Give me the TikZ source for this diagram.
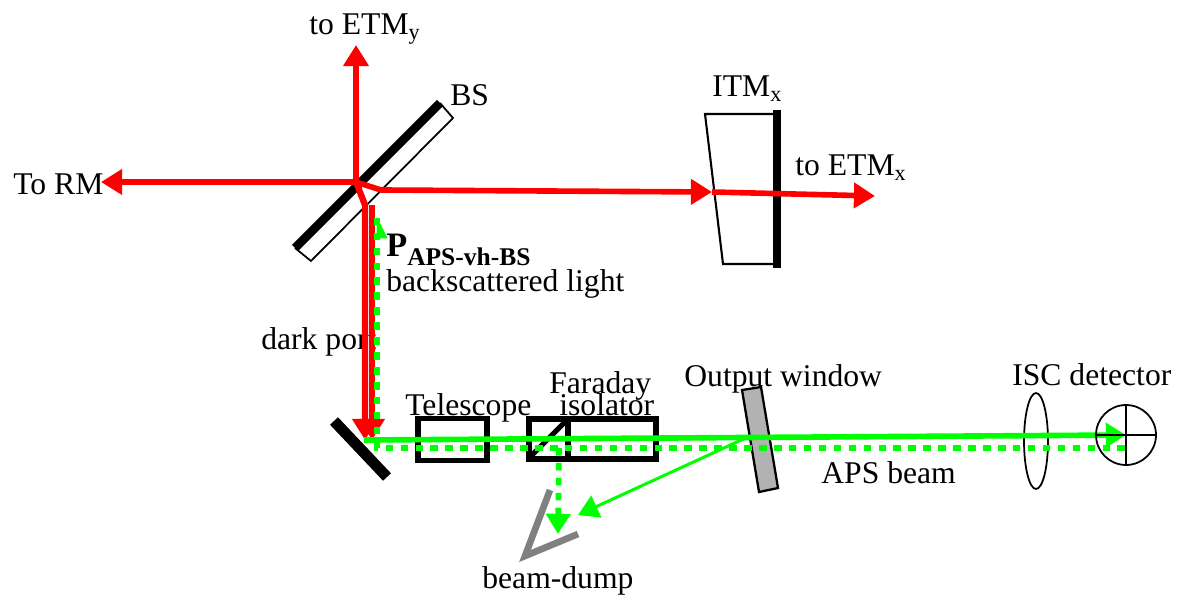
\documentclass[tikz,border=0pt]{standalone}
\usepackage{fontspec}
\setmainfont{Liberation Serif}
\usetikzlibrary{arrows.meta, positioning, shapes.geometric}
\definecolor{dumpgray}{RGB}{128,128,128}
\definecolor{windowgray}{RGB}{178,178,178}

\begin{document}
\begin{tikzpicture}[
        x=0.02cm, y=-0.02cm,
        every node/.style={font=\fontsize{18}{20}\selectfont, inner sep=0pt},
        lbl/.style={anchor=base west},
        optic/.style={draw, line width=3pt, minimum height=0.84cm},
        thinline/.style={draw, line width=1pt},
        redbeam/.style={draw=red, line width=3.2pt, -{Triangle[length=12pt, width=14pt]}},
        greenbeam/.style={draw=green, line width=3.2pt},
        greendash/.style={draw=green, line width=3.2pt, dash pattern=on 4.3pt off 4.2pt},
        greentip/.style={-{Triangle[length=11.5pt, width=13.5pt]}}
    ]
        \useasboundingbox (0,0) rectangle (1182,597);

        % Labels
        \node[lbl] (toy)   at (309,35)  {to ETM\textsubscript{y}};
        \node[lbl] (bslbl) at (450,106) {BS};
        \node[lbl] (itm)   at (712,97)  {ITM\textsubscript{x}};
        \node[lbl] (tox)   at (795,176) {to ETM\textsubscript{x}};
        \node[lbl] (torm)  at (13,195)  {To RM};
        \node[lbl] (paps)  at (386,257) {\bfseries\fontsize{19.5}{20}\selectfont P\raisebox{-0.24em}{\fontsize{14.5}{15}\selectfont APS-vh-BS}};
        \node[lbl] (back)  at (386,292) {backscattered light};
        \node[lbl] (dark)  at (261,350) {dark port};
        \node[lbl] (tele)  at (405,416) {Telescope};
        \node[lbl] (far)   at (549,394) {Faraday};
        \node[lbl] (iso)   at (559,416) {isolator};
        \node[lbl] (outw)  at (684,387) {Output window};
        \node[lbl] (isc)   at (1012,386) {ISC detector};
        \node[lbl] (aps)   at (821,483) {APS beam};
        \node[lbl] (dump)  at (482,588) {beam-dump};

        \coordinate (bshit)  at (356,182);
        \coordinate (bsout)  at (381,190);
        \coordinate (bsdown) at (365,205);
        \coordinate (foldl)  at (365,440);
        \coordinate (foldr)  at (372,440);
        \coordinate (secr)   at (372,205);
        \coordinate (itmin)  at (712,192);
        \coordinate (itmout) at (875,196);
        \coordinate (foldg)  at (364,440);
        \coordinate (detc)   at (1126,435);
        \coordinate (winhit) at (750,436);
        \coordinate (dashc)  at (377,448);
        \coordinate (dashe)  at (1125,448);
        \coordinate (dasht)  at (377,218);
        \coordinate (pickd)  at (559,448);
        \coordinate (pickt)  at (558,534);
        \coordinate (dumpt)  at (578,515);

        % Beam splitter
        \draw[thinline] (440,103) -- (453,118) -- (311,261) -- (295,248);
        \draw[line width=5pt] (440,103) -- (295,248);

        % Input mirror
        \draw[thinline, line width=1.2pt] (773,114) -- (705,114) -- (723,264) -- (773,264);
        \draw[line width=4pt] (777,110) -- (777,268);

        % Fold mirror
        \draw[line width=6.2pt] (334,421) -- (387,477);

        % Output window
        \draw[fill=windowgray, line width=1.3pt] (742,390) -- (761,387) -- (778,488) -- (759,492) -- cycle;

        % Lens
        \node[thinline, ellipse, minimum width=0.48cm, minimum height=1.92cm] (lens) at (1036,441) {};

        % Optics boxes
        \node[optic, minimum width=1.38cm] (telebox) at (452.5,439.5) {};
        \node[optic, minimum width=2.54cm, minimum height=0.8cm] (farbox) at (592.5,439) {};
        \draw[line width=3pt] (568,419) -- (568,459);
        \draw[line width=3pt] (528,459) -- (568,419);

        % Beam dump
        \draw[draw=dumpgray, line width=3.8pt] (550,490) -- (525,556) -- (578,534);

        % Red beams
        \draw[redbeam] (bshit) -- (356,45);
        \draw[redbeam] (bshit) -- (101,182);
        \draw[redbeam] (bshit) -- (bsout) -- (itmin);
        \draw[redbeam] (itmin) -- (itmout);
        \draw[redbeam, line width=3.6pt] (bshit) -- (bsdown) -- (foldl);
        \draw[redbeam] (secr) -- (foldr);

        % Green beams
        \draw[greendash] (dashe) -- (dashc) -- (dasht);
        \draw[draw=green, fill=green] (dasht) -- (387,238) -- (377,238) -- cycle;
        \draw[greendash, greentip] (pickd) -- (pickt);
        \draw[greenbeam, greentip] (foldg) -- (detc);
        \draw[draw=green, line width=1.7pt, greentip] (winhit) -- (dumpt);

        % Detector
        \node[thinline, circle, minimum size=1.2cm] (det) at (detc) {};
        \draw[line width=1.2pt] (det.north) -- (det.south);
        \draw[line width=1.2pt] (det.west) -- (det.east);
    \end{tikzpicture}
\end{document}
